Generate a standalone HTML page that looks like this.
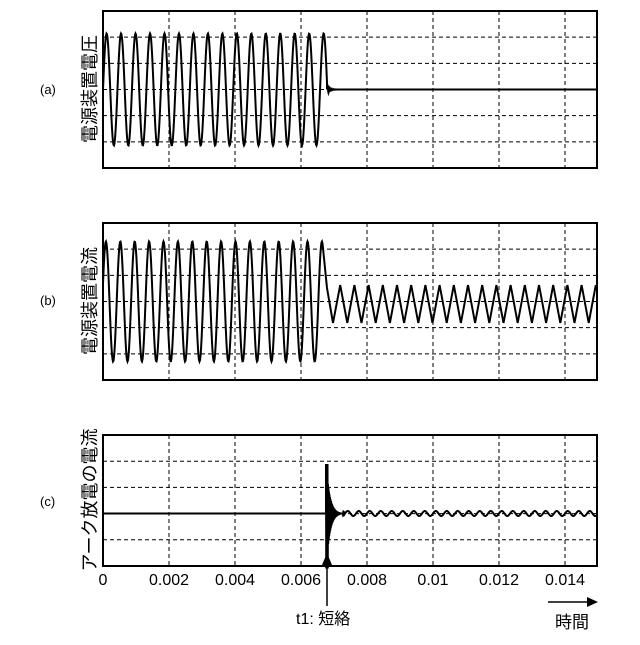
<!DOCTYPE html>
<html><head><meta charset="utf-8">
<style>
html,body{margin:0;padding:0;background:#fff;}
svg text{font-family:"Liberation Sans","Noto Sans CJK JP",sans-serif;fill:#000;}
</style></head>
<body>
<svg id="s" width="640" height="640" viewBox="0 0 640 640" xmlns="http://www.w3.org/2000/svg">
<g id="g"></g>
<text x="40" y="94" font-size="13">(a)</text>
<text x="40" y="305" font-size="13">(b)</text>
<text x="40" y="506" font-size="13">(c)</text>
<text transform="translate(96,89) rotate(-90)" font-size="18" text-anchor="middle">電源装置電圧</text>
<text transform="translate(96,301) rotate(-90)" font-size="18" text-anchor="middle">電源装置電流</text>
<text transform="translate(96,500) rotate(-90)" font-size="18" text-anchor="middle">アーク放電の電流</text>
<g font-size="16" text-anchor="middle">
<text x="103" y="585">0</text>
<text x="169" y="585">0.002</text>
<text x="235" y="585">0.004</text>
<text x="301" y="585">0.006</text>
<text x="367" y="585">0.008</text>
<text x="433" y="585">0.01</text>
<text x="499" y="585">0.012</text>
<text x="565" y="585">0.014</text>
</g>
<line x1="327" y1="562" x2="327" y2="606" stroke="#000" stroke-width="1.5"/>
<polygon points="327,553 322,565 332,565" fill="#000"/>
<text x="296" y="624" font-size="16">t1: 短絡</text>
<line x1="548" y1="602" x2="590" y2="602" stroke="#000" stroke-width="1.5"/>
<polygon points="598,602 587,597 587,607" fill="#000"/>
<text x="555" y="628" font-size="17">時間</text>
</svg>
<script>
var g=document.getElementById('g');var h='';
function box(t,b){
  for(var k=1;k<=7;k++){var x=103+66*k;h+='<line x1="'+x+'" y1="'+t+'" x2="'+x+'" y2="'+b+'" stroke="#000" stroke-width="1" stroke-dasharray="4,3"/>';}
}
function hgrid(t,b,nd){var n=(b-t)/nd;for(var k=1;k<nd;k++){var y=t+n*k;h+='<line x1="103" y1="'+y+'" x2="597" y2="'+y+'" stroke="#000" stroke-width="1" stroke-dasharray="4,3"/>';}}
function rect(t,b){h+='<rect x="103" y="'+t+'" width="494" height="'+(b-t)+'" fill="none" stroke="#000" stroke-width="2"/>';}
box(11,168);hgrid(11,168,6);
var p='M103,89.5';var T=14.47,A=56,m=89.5;
for(var x=103;x<=327;x+=0.5){p+=' L'+x+','+(m-A*Math.sin(2*Math.PI*(x-103)/T)).toFixed(2);}
for(var x=327;x<=340;x+=0.25){var e=Math.exp(-(x-327)/2.5);p+=' L'+x+','+(m-6*e*Math.sin((x-327)*3)).toFixed(2);}
p+=' L597,'+m;
h+='<path d="'+p+'" fill="none" stroke="#000" stroke-width="2"/>';
rect(11,168);
box(223,380);hgrid(223,380,6);
m=301.5;A=60;T=14.4;p='M103,'+m;
for(var x=103;x<=323;x+=0.5){p+=' L'+x+','+(m-A*Math.sin(2*Math.PI*(x-103)/T+0.3)).toFixed(2);}
p+=' L327,288 L333,323';var up=true;
for(var x=340.2;x<=597;x+=7.1){p+=' L'+x.toFixed(1)+','+(up?285:323);up=!up;}
h+='<path d="'+p+'" fill="none" stroke="#000" stroke-width="2"/>';
rect(223,380);
box(435,566);hgrid(435,566,5);
m=513.5;p='M103,'+m+' L326,'+m;
for(var x=326;x<=345;x+=0.25){var e=Math.exp(-(x-326.5)/3.5);var a=(x<328?55:50*e);p+=' L'+x+','+(m+(((x*4)|0)%2?a:-a*0.9)).toFixed(2);}
for(var x=345;x<=597;x+=0.5){p+=' L'+x+','+(m-2.5*Math.sin(2*Math.PI*(x-345)/11)).toFixed(2);}
h+='<path d="'+p+'" fill="none" stroke="#000" stroke-width="2"/>';
rect(435,566);
g.innerHTML=h;
</script>
</body></html>
